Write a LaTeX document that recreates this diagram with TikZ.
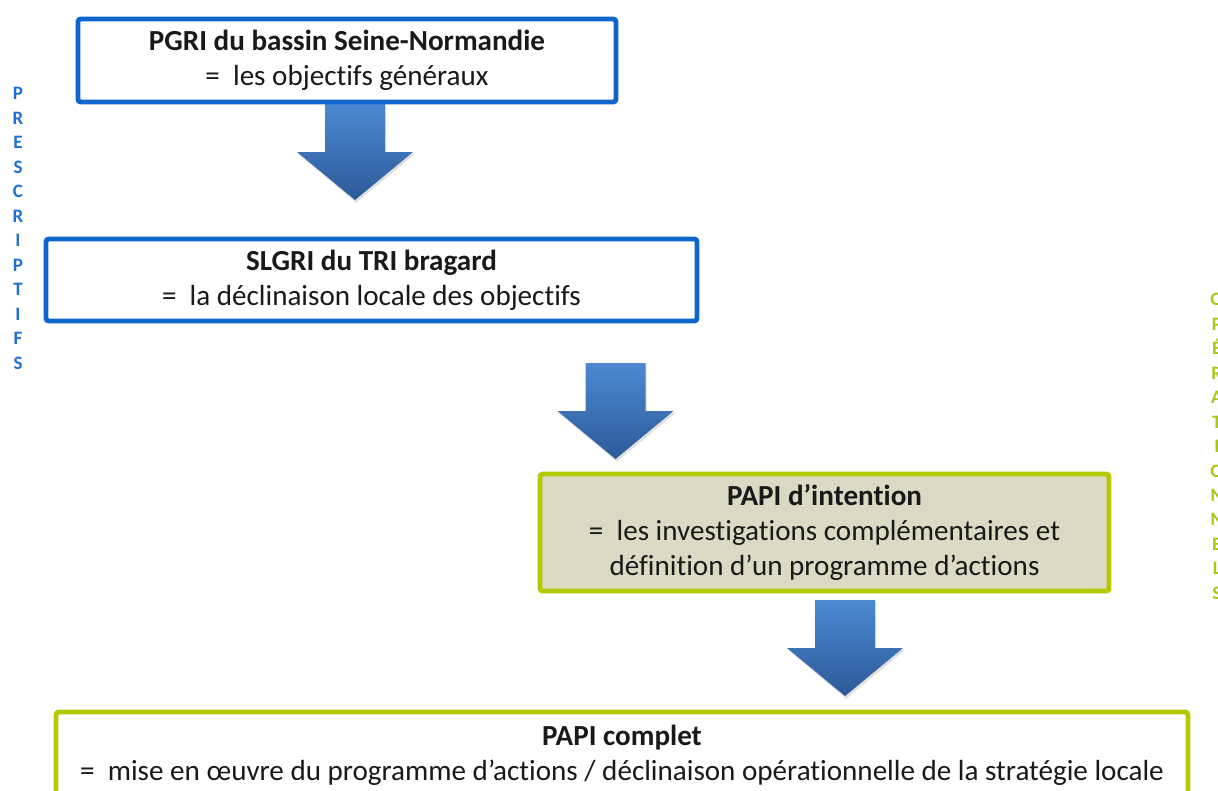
\documentclass[tikz,border=0pt]{standalone}
\usepackage{fontspec}
\setmainfont{Carlito}[Ligatures=NoCommon]
\usetikzlibrary{positioning}

\definecolor{planblue}{RGB}{14,102,204}
\definecolor{proggreen}{RGB}{180,202,0}
\definecolor{progfill}{RGB}{221,217,196}
\definecolor{arrowtop}{RGB}{76,137,210}
\definecolor{arrowbot}{RGB}{44,90,152}
\definecolor{presblue}{RGB}{30,112,210}
\definecolor{opgreen}{RGB}{170,198,20}

\begin{document}
\begin{tikzpicture}[
    font=\fontsize{20.7}{25}\selectfont,
    plan/.style={
        rectangle,
        rounded corners=2pt,
        draw=planblue,
        line width=3.5pt,
        fill=white,
        text=black!90,
        align=center
    },
    prog/.style={
        rectangle,
        rounded corners=2pt,
        draw=proggreen,
        line width=3.5pt,
        text=black!90,
        align=center
    },
    side/.style={
        font=\fontsize{13.5}{17.4}\selectfont\bfseries,
        align=center,
        inner sep=0pt
    },
    blockarrow/.pic={
        \fill[black, opacity=0.12] (-0.72,-0.05) -- (0.78,-0.05) -- (0.78,-1.25) -- (1.5,-1.25) -- (0.03,-2.47) -- (-1.42,-1.25) -- (-0.72,-1.25) -- cycle;
        \shade[top color=arrowtop, bottom color=arrowbot] (-0.75,0) -- (0.75,0) -- (0.75,-1.2) -- (1.45,-1.2) -- (0,-2.4) -- (-1.45,-1.2) -- (-0.75,-1.2) -- cycle;
    }
]
\useasboundingbox (0,0) rectangle (30.45,-19.775);

% Block arrows between the levels
\pic at (8.875,-2.6) {blockarrow};
\pic at (15.3875,-9.075) {blockarrow};
\pic at (21.125,-15.0) {blockarrow};

% Planning documents
\node[plan, minimum width=13.45cm, minimum height=2.075cm] (pgri) at (8.675,-1.5125)
    {\textbf{PGRI du bassin Seine-Normandie}\\=\ \ les objectifs généraux};
\node[plan, minimum width=16.275cm, minimum height=2.05cm] (slgri) at (9.2875,-7.0)
    {\textbf{SLGRI du TRI bragard}\\=\ \ la déclinaison locale des objectifs};

% Action programmes
\node[prog, fill=progfill, minimum width=14.225cm, minimum height=2.925cm] (papii) at (20.6125,-13.3125)
    {\textbf{PAPI d’intention}\\=\ \ les investigations complémentaires et\\définition d’un programme d’actions};
\node[prog, fill=white, minimum width=28.3cm, minimum height=2.15cm] (papic) at (15.55,-18.875)
    {\textbf{PAPI complet}\\=\ \ mise en œuvre du programme d’actions / déclinaison opérationnelle de la stratégie locale};

% Side labels
\node[side, text=presblue] (prescr) at (0.45,-5.71)
    {P\\R\\E\\S\\C\\R\\I\\P\\T\\I\\F\\S};
\node[side, text=opgreen] (operat) at (30.42,-11.16)
    {O\\P\\É\\R\\A\\T\\I\\O\\N\\N\\E\\L\\S};

\end{tikzpicture}
\end{document}
